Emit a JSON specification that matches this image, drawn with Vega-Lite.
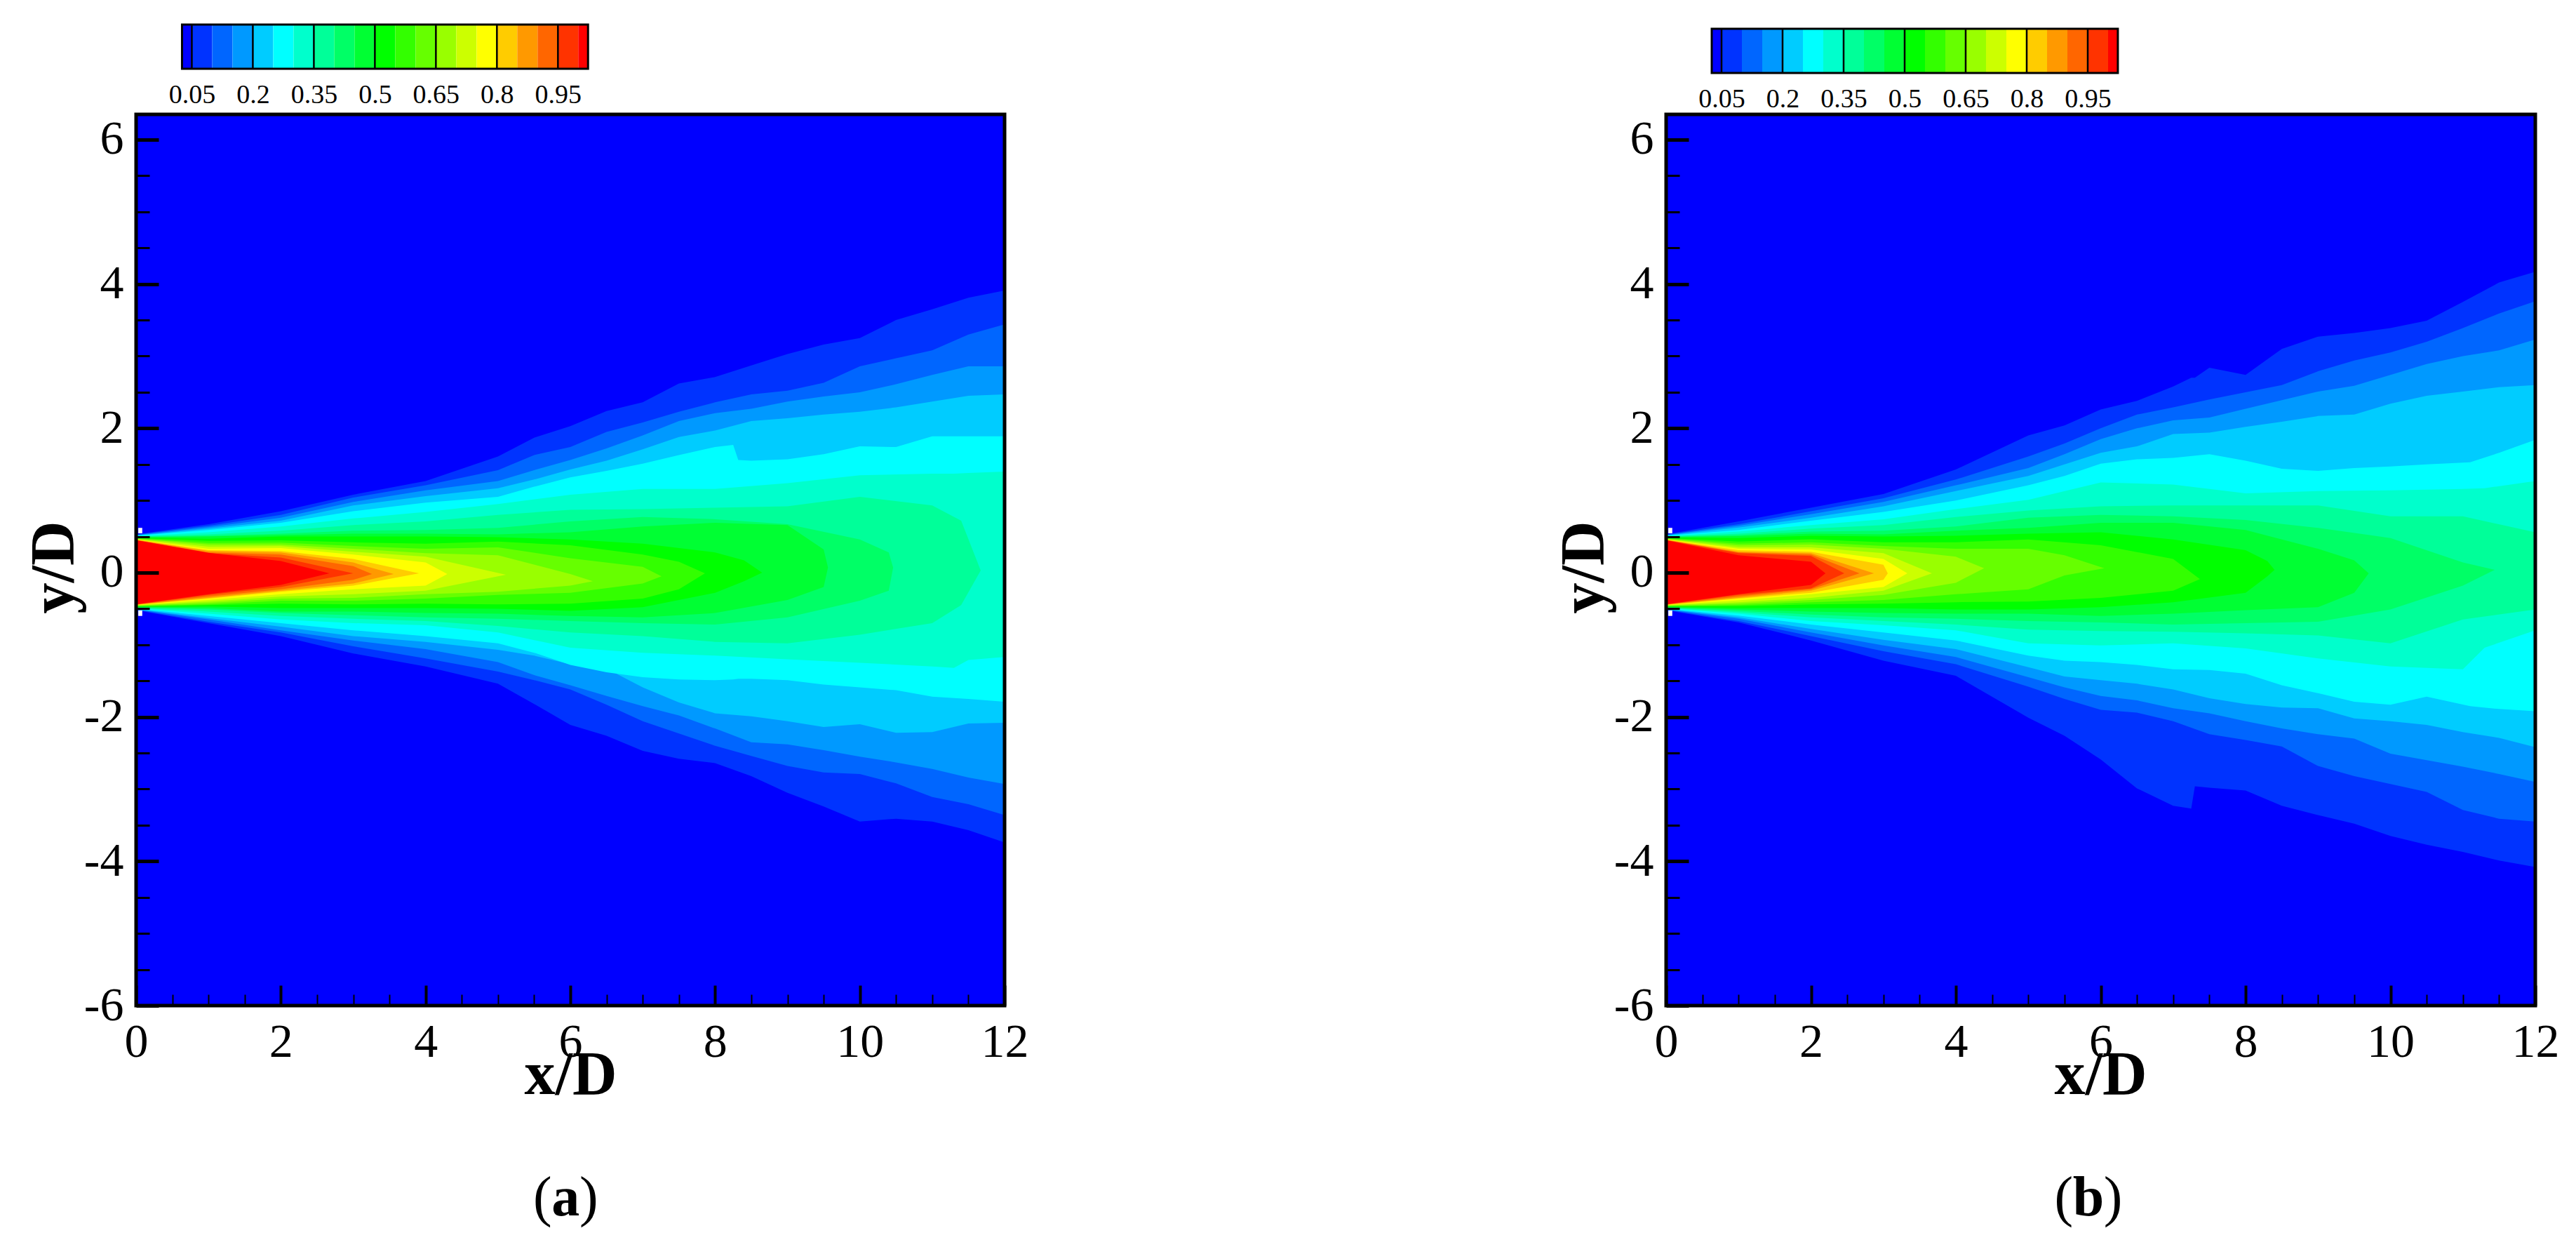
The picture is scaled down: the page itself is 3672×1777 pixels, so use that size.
{"$schema":"https://vega.github.io/schema/vega-lite/v6.json","background":"white","padding":{"left":33,"top":33,"right":10,"bottom":0},"config":{"view":{"stroke":null},"font":"Liberation Serif"},"bounds":"flush","spacing":2181,
"datasets":{
"cbar":[{"l":0,"lo":0.0259,"hi":0.05},{"l":1,"lo":0.05,"hi":0.1},{"l":2,"lo":0.1,"hi":0.15},{"l":3,"lo":0.15,"hi":0.2},{"l":4,"lo":0.2,"hi":0.25},{"l":5,"lo":0.25,"hi":0.3},{"l":6,"lo":0.3,"hi":0.35},{"l":7,"lo":0.35,"hi":0.4},{"l":8,"lo":0.4,"hi":0.45},{"l":9,"lo":0.45,"hi":0.5},{"l":10,"lo":0.5,"hi":0.55},{"l":11,"lo":0.55,"hi":0.6},{"l":12,"lo":0.6,"hi":0.65},{"l":13,"lo":0.65,"hi":0.7},{"l":14,"lo":0.7,"hi":0.75},{"l":15,"lo":0.75,"hi":0.8},{"l":16,"lo":0.8,"hi":0.85},{"l":17,"lo":0.85,"hi":0.9},{"l":18,"lo":0.9,"hi":0.95},{"l":19,"lo":0.95,"hi":1.0},{"l":20,"lo":1.0,"hi":1.024}],
"cbarlines":[{"v":0.05},{"v":0.2},{"v":0.35},{"v":0.5},{"v":0.65},{"v":0.8},{"v":0.95}],
"cbarframe":[{"lo":0.0259,"hi":1.024}],
"frame":[{"x0":0,"x1":12,"y0":-6,"y1":6.35}],
"dots":[{"x0":0.03,"x1":0.085,"y0":0.545,"y1":0.62},{"x0":0.03,"x1":0.085,"y0":-0.6,"y1":-0.524}],
"capa":[{"x":5.615,"t":"("},{"x":6.255,"t":")"}],"capa2":[{"x":5.935,"t":"a"}],
"capb":[{"x":5.49,"t":"("},{"x":6.17,"t":")"}],"capb2":[{"x":5.83,"t":"b"}],
"a":[{"l":0,"x":0,"u":6.35,"d":-6},{"l":0,"x":12,"u":6.35,"d":-6},
{"l":1,"x":0,"u":0.53,"d":-0.52},{"l":1,"x":1,"u":0.67,"d":-0.7},{"l":1,"x":2,"u":0.85,"d":-0.88},{"l":1,"x":3,"u":1.08,"d":-1.12},{"l":1,"x":4,"u":1.27,"d":-1.3},{"l":1,"x":5,"u":1.61,"d":-1.54},{"l":1,"x":5.5,"u":1.87,"d":-1.82},{"l":1,"x":6,"u":2.03,"d":-2.11},{"l":1,"x":6.5,"u":2.24,"d":-2.26},{"l":1,"x":7,"u":2.36,"d":-2.47},{"l":1,"x":7.5,"u":2.62,"d":-2.58},{"l":1,"x":8,"u":2.71,"d":-2.64},{"l":1,"x":8.5,"u":2.87,"d":-2.82},{"l":1,"x":9,"u":3.03,"d":-3.05},{"l":1,"x":9.5,"u":3.16,"d":-3.24},{"l":1,"x":10,"u":3.25,"d":-3.45},{"l":1,"x":10.5,"u":3.5,"d":-3.41},{"l":1,"x":11,"u":3.65,"d":-3.45},{"l":1,"x":11.5,"u":3.81,"d":-3.57},{"l":1,"x":12,"u":3.91,"d":-3.74},
{"l":2,"x":0,"u":0.525,"d":-0.515},{"l":2,"x":1,"u":0.65,"d":-0.68},{"l":2,"x":2,"u":0.8,"d":-0.83},{"l":2,"x":3,"u":1.04,"d":-1.02},{"l":2,"x":4,"u":1.21,"d":-1.19},{"l":2,"x":5,"u":1.42,"d":-1.37},{"l":2,"x":5.5,"u":1.63,"d":-1.49},{"l":2,"x":6,"u":1.74,"d":-1.62},{"l":2,"x":6.5,"u":1.95,"d":-1.83},{"l":2,"x":7,"u":2.08,"d":-2.06},{"l":2,"x":7.5,"u":2.23,"d":-2.23},{"l":2,"x":8,"u":2.36,"d":-2.4},{"l":2,"x":8.5,"u":2.47,"d":-2.54},{"l":2,"x":9,"u":2.52,"d":-2.68},{"l":2,"x":9.5,"u":2.63,"d":-2.77},{"l":2,"x":10,"u":2.86,"d":-2.79},{"l":2,"x":10.5,"u":2.97,"d":-2.92},{"l":2,"x":11,"u":3.08,"d":-3.11},{"l":2,"x":11.5,"u":3.3,"d":-3.21},{"l":2,"x":12,"u":3.44,"d":-3.36},
{"l":3,"x":0,"u":0.52,"d":-0.51},{"l":3,"x":1,"u":0.63,"d":-0.65},{"l":3,"x":2,"u":0.76,"d":-0.8},{"l":3,"x":3,"u":0.98,"d":-0.94},{"l":3,"x":4,"u":1.14,"d":-1.06},{"l":3,"x":5,"u":1.27,"d":-1.24},{"l":3,"x":5.5,"u":1.42,"d":-1.42},{"l":3,"x":6,"u":1.56,"d":-1.56},{"l":3,"x":6.5,"u":1.72,"d":-1.71},{"l":3,"x":7,"u":1.9,"d":-1.85},{"l":3,"x":7.5,"u":2.1,"d":-1.98},{"l":3,"x":8,"u":2.21,"d":-2.16},{"l":3,"x":8.5,"u":2.27,"d":-2.35},{"l":3,"x":9,"u":2.37,"d":-2.38},{"l":3,"x":9.5,"u":2.44,"d":-2.46},{"l":3,"x":10,"u":2.5,"d":-2.55},{"l":3,"x":10.5,"u":2.61,"d":-2.63},{"l":3,"x":11,"u":2.74,"d":-2.72},{"l":3,"x":11.5,"u":2.86,"d":-2.84},{"l":3,"x":12,"u":2.86,"d":-2.93},
{"l":4,"x":0,"u":0.515,"d":-0.505},{"l":4,"x":1,"u":0.61,"d":-0.63},{"l":4,"x":2,"u":0.72,"d":-0.75},{"l":4,"x":3,"u":0.93,"d":-0.88},{"l":4,"x":4,"u":1.06,"d":-0.96},{"l":4,"x":5,"u":1.17,"d":-1.07},{"l":4,"x":5.5,"u":1.29,"d":-1.15},{"l":4,"x":6,"u":1.43,"d":-1.27},{"l":4,"x":6.5,"u":1.55,"d":-1.33},{"l":4,"x":7,"u":1.71,"d":-1.59},{"l":4,"x":7.5,"u":1.88,"d":-1.8},{"l":4,"x":8,"u":1.97,"d":-1.95},{"l":4,"x":8.5,"u":2.1,"d":-1.99},{"l":4,"x":9,"u":2.14,"d":-2.06},{"l":4,"x":9.5,"u":2.19,"d":-2.14},{"l":4,"x":10,"u":2.23,"d":-2.1},{"l":4,"x":10.5,"u":2.29,"d":-2.22},{"l":4,"x":11,"u":2.37,"d":-2.21},{"l":4,"x":11.5,"u":2.45,"d":-2.09},{"l":4,"x":12,"u":2.47,"d":-2.08},
{"l":5,"x":0,"u":0.51,"d":-0.5},{"l":5,"x":1,"u":0.59,"d":-0.6},{"l":5,"x":2,"u":0.69,"d":-0.7},{"l":5,"x":3,"u":0.85,"d":-0.8},{"l":5,"x":4,"u":0.97,"d":-0.88},{"l":5,"x":5,"u":1.05,"d":-0.98},{"l":5,"x":5.5,"u":1.19,"d":-1.11},{"l":5,"x":6,"u":1.32,"d":-1.28},{"l":5,"x":6.5,"u":1.41,"d":-1.38},{"l":5,"x":7,"u":1.51,"d":-1.45},{"l":5,"x":7.5,"u":1.63,"d":-1.48},{"l":5,"x":8,"u":1.74,"d":-1.49},{"l":5,"x":8.25,"u":1.77,"d":-1.48},{"l":5,"x":8.32,"u":1.56,"d":-1.47},{"l":5,"x":8.5,"u":1.55,"d":-1.47},{"l":5,"x":9,"u":1.57,"d":-1.49},{"l":5,"x":9.5,"u":1.64,"d":-1.55},{"l":5,"x":10,"u":1.75,"d":-1.59},{"l":5,"x":10.5,"u":1.74,"d":-1.63},{"l":5,"x":11,"u":1.89,"d":-1.72},{"l":5,"x":11.5,"u":1.89,"d":-1.75},{"l":5,"x":12,"u":1.89,"d":-1.79},
{"l":6,"x":0,"u":0.505,"d":-0.495},{"l":6,"x":1,"u":0.56,"d":-0.57},{"l":6,"x":2,"u":0.64,"d":-0.65},{"l":6,"x":3,"u":0.75,"d":-0.7},{"l":6,"x":4,"u":0.84,"d":-0.73},{"l":6,"x":5,"u":0.95,"d":-0.83},{"l":6,"x":6,"u":1.08,"d":-1.04},{"l":6,"x":7,"u":1.16,"d":-1.11},{"l":6,"x":8,"u":1.16,"d":-1.15},{"l":6,"x":9,"u":1.24,"d":-1.2},{"l":6,"x":10,"u":1.35,"d":-1.25},{"l":6,"x":11,"u":1.37,"d":-1.3},{"l":6,"x":11.3,"u":1.37,"d":-1.32},{"l":6,"x":11.5,"u":1.38,"d":-1.21},{"l":6,"x":12,"u":1.4,"d":-1.17},
{"l":7,"x":0,"u":0.5,"d":-0.49},{"l":7,"x":1,"u":0.53,"d":-0.54},{"l":7,"x":2,"u":0.58,"d":-0.6},{"l":7,"x":3,"u":0.66,"d":-0.64},{"l":7,"x":4,"u":0.71,"d":-0.67},{"l":7,"x":5,"u":0.8,"d":-0.74},{"l":7,"x":6,"u":0.87,"d":-0.83},{"l":7,"x":7,"u":0.88,"d":-0.88},{"l":7,"x":8,"u":0.9,"d":-0.96},{"l":7,"x":9,"u":0.92,"d":-0.98},{"l":7,"x":10,"u":1.05,"d":-0.86},{"l":7,"x":11,"u":0.93,"d":-0.7},{"l":7,"x":11.4,"u":0.72,"d":-0.45},{"l":7,"x":11.67,"u":0.03,"d":0.03},
{"l":8,"x":0,"u":0.495,"d":-0.485},{"l":8,"x":1,"u":0.51,"d":-0.51},{"l":8,"x":2,"u":0.54,"d":-0.56},{"l":8,"x":3,"u":0.58,"d":-0.59},{"l":8,"x":4,"u":0.59,"d":-0.62},{"l":8,"x":5,"u":0.62,"d":-0.64},{"l":8,"x":6,"u":0.71,"d":-0.67},{"l":8,"x":7,"u":0.77,"d":-0.7},{"l":8,"x":8,"u":0.74,"d":-0.72},{"l":8,"x":9,"u":0.67,"d":-0.62},{"l":8,"x":10,"u":0.46,"d":-0.39},{"l":8,"x":10.4,"u":0.28,"d":-0.25},{"l":8,"x":10.46,"u":0.07,"d":0.07},
{"l":9,"x":0,"u":0.49,"d":-0.48},{"l":9,"x":1,"u":0.5,"d":-0.49},{"l":9,"x":2,"u":0.52,"d":-0.54},{"l":9,"x":3,"u":0.54,"d":-0.54},{"l":9,"x":4,"u":0.54,"d":-0.56},{"l":9,"x":5,"u":0.53,"d":-0.57},{"l":9,"x":6,"u":0.56,"d":-0.6},{"l":9,"x":7,"u":0.64,"d":-0.62},{"l":9,"x":8,"u":0.69,"d":-0.56},{"l":9,"x":9,"u":0.66,"d":-0.38},{"l":9,"x":9.5,"u":0.32,"d":-0.2},{"l":9,"x":9.56,"u":0.07,"d":0.07},
{"l":10,"x":0,"u":0.485,"d":-0.475},{"l":10,"x":1,"u":0.47,"d":-0.47},{"l":10,"x":2,"u":0.5,"d":-0.49},{"l":10,"x":3,"u":0.5,"d":-0.49},{"l":10,"x":4,"u":0.5,"d":-0.49},{"l":10,"x":5,"u":0.49,"d":-0.5},{"l":10,"x":6,"u":0.46,"d":-0.53},{"l":10,"x":7,"u":0.4,"d":-0.48},{"l":10,"x":8,"u":0.28,"d":-0.28},{"l":10,"x":8.4,"u":0.17,"d":-0.12},{"l":10,"x":8.65,"u":0,"d":0},
{"l":11,"x":0,"u":0.48,"d":-0.47},{"l":11,"x":1,"u":0.44,"d":-0.45},{"l":11,"x":2,"u":0.447,"d":-0.43},{"l":11,"x":3,"u":0.42,"d":-0.44},{"l":11,"x":4,"u":0.4,"d":-0.43},{"l":11,"x":5,"u":0.43,"d":-0.44},{"l":11,"x":6,"u":0.38,"d":-0.43},{"l":11,"x":7,"u":0.25,"d":-0.36},{"l":11,"x":7.5,"u":0.15,"d":-0.23},{"l":11,"x":7.86,"u":-0.01,"d":-0.01},
{"l":12,"x":0,"u":0.475,"d":-0.465},{"l":12,"x":1,"u":0.41,"d":-0.44},{"l":12,"x":2,"u":0.415,"d":-0.39},{"l":12,"x":3,"u":0.37,"d":-0.39},{"l":12,"x":4,"u":0.33,"d":-0.36},{"l":12,"x":5,"u":0.35,"d":-0.31},{"l":12,"x":6,"u":0.2,"d":-0.28},{"l":12,"x":7,"u":0.08,"d":-0.15},{"l":12,"x":7.26,"u":-0.05,"d":-0.05},
{"l":13,"x":0,"u":0.47,"d":-0.46},{"l":13,"x":1,"u":0.39,"d":-0.42},{"l":13,"x":2,"u":0.39,"d":-0.36},{"l":13,"x":3,"u":0.33,"d":-0.35},{"l":13,"x":4,"u":0.27,"d":-0.3},{"l":13,"x":5,"u":0.24,"d":-0.265},{"l":13,"x":6,"u":-0.02,"d":-0.18},{"l":13,"x":6.31,"u":-0.12,"d":-0.12},
{"l":14,"x":0,"u":0.465,"d":-0.455},{"l":14,"x":1,"u":0.36,"d":-0.4},{"l":14,"x":2,"u":0.366,"d":-0.33},{"l":14,"x":3,"u":0.29,"d":-0.3},{"l":14,"x":4,"u":0.22,"d":-0.25},{"l":14,"x":5.11,"u":-0.03,"d":-0.03},
{"l":15,"x":0,"u":0.46,"d":-0.45},{"l":15,"x":1,"u":0.33,"d":-0.38},{"l":15,"x":2,"u":0.34,"d":-0.3},{"l":15,"x":3,"u":0.25,"d":-0.23},{"l":15,"x":4,"u":0.14,"d":-0.18},{"l":15,"x":4.3,"u":-0.02,"d":-0.02},
{"l":16,"x":0,"u":0.457,"d":-0.447},{"l":16,"x":1,"u":0.31,"d":-0.36},{"l":16,"x":2,"u":0.3,"d":-0.265},{"l":16,"x":3,"u":0.19,"d":-0.18},{"l":16,"x":3.91,"u":-0.01,"d":-0.01},
{"l":17,"x":0,"u":0.455,"d":-0.445},{"l":17,"x":1,"u":0.3,"d":-0.35},{"l":17,"x":2,"u":0.28,"d":-0.25},{"l":17,"x":3,"u":0.14,"d":-0.15},{"l":17,"x":3.56,"u":-0.02,"d":-0.02},
{"l":18,"x":0,"u":0.453,"d":-0.443},{"l":18,"x":1,"u":0.28,"d":-0.33},{"l":18,"x":2,"u":0.25,"d":-0.23},{"l":18,"x":3,"u":0.09,"d":-0.1},{"l":18,"x":3.26,"u":-0.02,"d":-0.02},
{"l":19,"x":0,"u":0.45,"d":-0.44},{"l":19,"x":1,"u":0.27,"d":-0.31},{"l":19,"x":2,"u":0.21,"d":-0.2},{"l":19,"x":3,"u":-0.01,"d":-0.01},
{"l":20,"x":0,"u":0.447,"d":-0.437},{"l":20,"x":1,"u":0.275,"d":-0.3},{"l":20,"x":2,"u":0.16,"d":-0.17},{"l":20,"x":2.67,"u":-0.01,"d":-0.01}],
"b":[{"l":0,"x":0,"u":6.35,"d":-6},{"l":0,"x":12,"u":6.35,"d":-6},
{"l":1,"x":0,"u":0.53,"d":-0.52},{"l":1,"x":1,"u":0.71,"d":-0.69},{"l":1,"x":2,"u":0.9,"d":-0.94},{"l":1,"x":3,"u":1.09,"d":-1.22},{"l":1,"x":4,"u":1.43,"d":-1.43},{"l":1,"x":5,"u":1.9,"d":-2.01},{"l":1,"x":5.5,"u":2.04,"d":-2.26},{"l":1,"x":6,"u":2.26,"d":-2.59},{"l":1,"x":6.5,"u":2.38,"d":-2.99},{"l":1,"x":7,"u":2.58,"d":-3.23},{"l":1,"x":7.25,"u":2.7,"d":-3.27},{"l":1,"x":7.3,"u":2.7,"d":-2.96},{"l":1,"x":7.5,"u":2.84,"d":-2.98},{"l":1,"x":8,"u":2.74,"d":-3.02},{"l":1,"x":8.5,"u":3.1,"d":-3.23},{"l":1,"x":9,"u":3.27,"d":-3.36},{"l":1,"x":9.5,"u":3.32,"d":-3.48},{"l":1,"x":10,"u":3.39,"d":-3.65},{"l":1,"x":10.5,"u":3.49,"d":-3.77},{"l":1,"x":11,"u":3.75,"d":-3.87},{"l":1,"x":11.5,"u":4.02,"d":-3.99},{"l":1,"x":12,"u":4.17,"d":-4.08},
{"l":2,"x":0,"u":0.525,"d":-0.515},{"l":2,"x":1,"u":0.67,"d":-0.67},{"l":2,"x":2,"u":0.85,"d":-0.88},{"l":2,"x":3,"u":1.03,"d":-1.09},{"l":2,"x":4,"u":1.29,"d":-1.27},{"l":2,"x":5,"u":1.61,"d":-1.58},{"l":2,"x":5.5,"u":1.79,"d":-1.75},{"l":2,"x":6,"u":2.0,"d":-1.9},{"l":2,"x":6.5,"u":2.19,"d":-1.94},{"l":2,"x":7,"u":2.29,"d":-2.06},{"l":2,"x":7.5,"u":2.4,"d":-2.24},{"l":2,"x":8,"u":2.5,"d":-2.32},{"l":2,"x":8.5,"u":2.6,"d":-2.41},{"l":2,"x":9,"u":2.79,"d":-2.68},{"l":2,"x":9.5,"u":2.94,"d":-2.82},{"l":2,"x":10,"u":3.05,"d":-2.93},{"l":2,"x":10.5,"u":3.2,"d":-3.04},{"l":2,"x":11,"u":3.39,"d":-3.29},{"l":2,"x":11.5,"u":3.59,"d":-3.41},{"l":2,"x":12,"u":3.76,"d":-3.45},
{"l":3,"x":0,"u":0.52,"d":-0.51},{"l":3,"x":1,"u":0.65,"d":-0.64},{"l":3,"x":2,"u":0.81,"d":-0.83},{"l":3,"x":3,"u":0.98,"d":-1.01},{"l":3,"x":4,"u":1.21,"d":-1.17},{"l":3,"x":5,"u":1.45,"d":-1.45},{"l":3,"x":5.5,"u":1.64,"d":-1.59},{"l":3,"x":6,"u":1.85,"d":-1.71},{"l":3,"x":6.5,"u":2.0,"d":-1.77},{"l":3,"x":7,"u":2.11,"d":-1.88},{"l":3,"x":7.5,"u":2.15,"d":-1.95},{"l":3,"x":8,"u":2.27,"d":-2.06},{"l":3,"x":8.5,"u":2.39,"d":-2.16},{"l":3,"x":9,"u":2.51,"d":-2.24},{"l":3,"x":9.5,"u":2.59,"d":-2.3},{"l":3,"x":10,"u":2.74,"d":-2.51},{"l":3,"x":10.5,"u":2.89,"d":-2.6},{"l":3,"x":11,"u":3.0,"d":-2.69},{"l":3,"x":11.5,"u":3.08,"d":-2.79},{"l":3,"x":12,"u":3.23,"d":-2.9},
{"l":4,"x":0,"u":0.515,"d":-0.505},{"l":4,"x":1,"u":0.625,"d":-0.62},{"l":4,"x":2,"u":0.76,"d":-0.78},{"l":4,"x":3,"u":0.92,"d":-0.93},{"l":4,"x":4,"u":1.13,"d":-1.06},{"l":4,"x":5,"u":1.34,"d":-1.31},{"l":4,"x":5.5,"u":1.5,"d":-1.44},{"l":4,"x":6,"u":1.66,"d":-1.49},{"l":4,"x":6.5,"u":1.75,"d":-1.54},{"l":4,"x":7,"u":1.92,"d":-1.62},{"l":4,"x":7.5,"u":1.94,"d":-1.74},{"l":4,"x":8,"u":2.02,"d":-1.82},{"l":4,"x":8.5,"u":2.09,"d":-1.87},{"l":4,"x":9,"u":2.17,"d":-1.88},{"l":4,"x":9.5,"u":2.19,"d":-2.02},{"l":4,"x":10,"u":2.34,"d":-2.06},{"l":4,"x":10.5,"u":2.45,"d":-2.11},{"l":4,"x":11,"u":2.51,"d":-2.21},{"l":4,"x":11.5,"u":2.57,"d":-2.29},{"l":4,"x":12,"u":2.6,"d":-2.42},
{"l":5,"x":0,"u":0.51,"d":-0.5},{"l":5,"x":1,"u":0.59,"d":-0.595},{"l":5,"x":2,"u":0.72,"d":-0.72},{"l":5,"x":3,"u":0.84,"d":-0.83},{"l":5,"x":4,"u":1.0,"d":-0.94},{"l":5,"x":5,"u":1.21,"d":-1.15},{"l":5,"x":5.5,"u":1.34,"d":-1.22},{"l":5,"x":6,"u":1.51,"d":-1.24},{"l":5,"x":6.5,"u":1.57,"d":-1.28},{"l":5,"x":7,"u":1.59,"d":-1.34},{"l":5,"x":7.5,"u":1.64,"d":-1.35},{"l":5,"x":8,"u":1.55,"d":-1.4},{"l":5,"x":8.5,"u":1.44,"d":-1.56},{"l":5,"x":9,"u":1.41,"d":-1.67},{"l":5,"x":9.5,"u":1.45,"d":-1.79},{"l":5,"x":10,"u":1.47,"d":-1.83},{"l":5,"x":10.5,"u":1.5,"d":-1.72},{"l":5,"x":11.1,"u":1.53,"d":-1.85},{"l":5,"x":11.5,"u":1.66,"d":-1.89},{"l":5,"x":12,"u":1.84,"d":-1.92},
{"l":6,"x":0,"u":0.505,"d":-0.495},{"l":6,"x":1,"u":0.57,"d":-0.57},{"l":6,"x":2,"u":0.66,"d":-0.67},{"l":6,"x":3,"u":0.74,"d":-0.73},{"l":6,"x":4,"u":0.88,"d":-0.8},{"l":6,"x":5,"u":1.01,"d":-0.98},{"l":6,"x":6,"u":1.25,"d":-1.01},{"l":6,"x":7,"u":1.22,"d":-0.98},{"l":6,"x":8,"u":1.1,"d":-1.05},{"l":6,"x":9,"u":1.13,"d":-1.19},{"l":6,"x":10,"u":1.14,"d":-1.3},{"l":6,"x":11,"u":1.16,"d":-1.34},{"l":6,"x":11.3,"u":1.17,"d":-1.04},{"l":6,"x":12,"u":1.27,"d":-0.8},
{"l":7,"x":0,"u":0.5,"d":-0.49},{"l":7,"x":1,"u":0.54,"d":-0.55},{"l":7,"x":2,"u":0.61,"d":-0.62},{"l":7,"x":3,"u":0.66,"d":-0.67},{"l":7,"x":4,"u":0.77,"d":-0.72},{"l":7,"x":5,"u":0.86,"d":-0.79},{"l":7,"x":6,"u":0.92,"d":-0.81},{"l":7,"x":7,"u":0.93,"d":-0.82},{"l":7,"x":8,"u":0.93,"d":-0.84},{"l":7,"x":9,"u":0.93,"d":-0.87},{"l":7,"x":10,"u":0.78,"d":-0.98},{"l":7,"x":11,"u":0.78,"d":-0.65},{"l":7,"x":12,"u":0.56,"d":-0.51},
{"l":8,"x":0,"u":0.495,"d":-0.485},{"l":8,"x":1,"u":0.52,"d":-0.53},{"l":8,"x":2,"u":0.57,"d":-0.58},{"l":8,"x":3,"u":0.58,"d":-0.62},{"l":8,"x":4,"u":0.64,"d":-0.64},{"l":8,"x":5,"u":0.76,"d":-0.67},{"l":8,"x":6,"u":0.8,"d":-0.69},{"l":8,"x":7,"u":0.78,"d":-0.72},{"l":8,"x":8,"u":0.73,"d":-0.7},{"l":8,"x":9,"u":0.62,"d":-0.68},{"l":8,"x":10,"u":0.48,"d":-0.51},{"l":8,"x":11,"u":0.14,"d":-0.18},{"l":8,"x":11.44,"u":0.04,"d":0.04},
{"l":9,"x":0,"u":0.49,"d":-0.48},{"l":9,"x":1,"u":0.505,"d":-0.51},{"l":9,"x":2,"u":0.54,"d":-0.54},{"l":9,"x":3,"u":0.53,"d":-0.56},{"l":9,"x":4,"u":0.58,"d":-0.57},{"l":9,"x":5,"u":0.62,"d":-0.57},{"l":9,"x":6,"u":0.69,"d":-0.6},{"l":9,"x":7,"u":0.69,"d":-0.57},{"l":9,"x":8,"u":0.59,"d":-0.52},{"l":9,"x":9,"u":0.33,"d":-0.48},{"l":9,"x":9.5,"u":0.17,"d":-0.28},{"l":9,"x":9.7,"u":-0.01,"d":-0.01},
{"l":10,"x":0,"u":0.485,"d":-0.475},{"l":10,"x":1,"u":0.48,"d":-0.49},{"l":10,"x":2,"u":0.51,"d":-0.49},{"l":10,"x":3,"u":0.5,"d":-0.49},{"l":10,"x":4,"u":0.51,"d":-0.51},{"l":10,"x":5,"u":0.54,"d":-0.51},{"l":10,"x":6,"u":0.56,"d":-0.48},{"l":10,"x":7,"u":0.46,"d":-0.41},{"l":10,"x":8,"u":0.31,"d":-0.28},{"l":10,"x":8.3,"u":0.16,"d":-0.05},{"l":10,"x":8.4,"u":0.04,"d":0.04},
{"l":11,"x":0,"u":0.48,"d":-0.47},{"l":11,"x":1,"u":0.43,"d":-0.465},{"l":11,"x":2,"u":0.463,"d":-0.44},{"l":11,"x":3,"u":0.42,"d":-0.43},{"l":11,"x":4,"u":0.42,"d":-0.41},{"l":11,"x":5,"u":0.46,"d":-0.4},{"l":11,"x":6,"u":0.38,"d":-0.35},{"l":11,"x":7,"u":0.19,"d":-0.25},{"l":11,"x":7.37,"u":-0.09,"d":-0.09},
{"l":12,"x":0,"u":0.475,"d":-0.465},{"l":12,"x":1,"u":0.4,"d":-0.45},{"l":12,"x":2,"u":0.42,"d":-0.41},{"l":12,"x":3,"u":0.37,"d":-0.38},{"l":12,"x":4,"u":0.33,"d":-0.3},{"l":12,"x":5,"u":0.33,"d":-0.23},{"l":12,"x":5.5,"u":0.24,"d":-0.04},{"l":12,"x":6.05,"u":0.06,"d":0.06},
{"l":13,"x":0,"u":0.47,"d":-0.46},{"l":13,"x":1,"u":0.376,"d":-0.43},{"l":13,"x":2,"u":0.39,"d":-0.38},{"l":13,"x":3,"u":0.33,"d":-0.31},{"l":13,"x":4,"u":0.22,"d":-0.14},{"l":13,"x":4.39,"u":0.06,"d":0.06},
{"l":14,"x":0,"u":0.465,"d":-0.455},{"l":14,"x":1,"u":0.35,"d":-0.41},{"l":14,"x":2,"u":0.35,"d":-0.35},{"l":14,"x":3,"u":0.27,"d":-0.25},{"l":14,"x":3.67,"u":-0.01,"d":-0.01},
{"l":15,"x":0,"u":0.46,"d":-0.45},{"l":15,"x":1,"u":0.33,"d":-0.385},{"l":15,"x":2,"u":0.32,"d":-0.3},{"l":15,"x":3,"u":0.19,"d":-0.2},{"l":15,"x":3.33,"u":-0.01,"d":-0.01},
{"l":16,"x":0,"u":0.457,"d":-0.447},{"l":16,"x":1,"u":0.31,"d":-0.36},{"l":16,"x":2,"u":0.29,"d":-0.28},{"l":16,"x":3,"u":0.11,"d":-0.1},{"l":16,"x":3.06,"u":-0.01,"d":-0.01},
{"l":17,"x":0,"u":0.455,"d":-0.445},{"l":17,"x":1,"u":0.29,"d":-0.35},{"l":17,"x":2,"u":0.27,"d":-0.25},{"l":17,"x":2.87,"u":-0.01,"d":-0.01},
{"l":18,"x":0,"u":0.453,"d":-0.443},{"l":18,"x":1,"u":0.28,"d":-0.33},{"l":18,"x":2,"u":0.25,"d":-0.23},{"l":18,"x":2.67,"u":-0.01,"d":-0.01},
{"l":19,"x":0,"u":0.45,"d":-0.44},{"l":19,"x":1,"u":0.27,"d":-0.31},{"l":19,"x":2,"u":0.23,"d":-0.22},{"l":19,"x":2.46,"u":-0.01,"d":-0.01},
{"l":20,"x":0,"u":0.447,"d":-0.437},{"l":20,"x":1,"u":0.24,"d":-0.3},{"l":20,"x":2,"u":0.15,"d":-0.17},{"l":20,"x":2.2,"u":-0.01,"d":-0.01}]
},
"hconcat":[
{"bounds":"flush","vconcat":[
{"width":1238,"height":69,"resolve":{"axis":{"x":"independent"}},"encoding":{"y":{"datum":0,"type":"quantitative","scale":{"domain":[-0.095,1],"nice":false,"zero":false},"axis":null},"y2":{"datum":1}},
"layer":[
{"data":{"name":"cbar"},"mark":{"type":"rect"},"encoding":{"x":{"field":"lo","type":"quantitative","scale":{"domain":[-0.087,2.048],"nice":false,"zero":false},"axis":null},"x2":{"field":"hi"},"color":{"field":"l","type":"ordinal","legend":null,"scale":{"domain":[0,1,2,3,4,5,6,7,8,9,10,11,12,13,14,15,16,17,18,19,20],"range":["#0000FF","#0033FF","#0066FF","#0099FF","#00CCFF","#00FFFF","#00FFCC","#00FF99","#00FF66","#00FF33","#00FF00","#33FF00","#66FF00","#99FF00","#CCFF00","#FFFF00","#FFCC00","#FF9900","#FF6600","#FF3300","#FF0000"]}}}},
{"data":{"name":"cbarlines"},"mark":{"type":"rule","color":"black","strokeWidth":2.5},"encoding":{"x":{"field":"v","type":"quantitative","scale":{"domain":[-0.087,2.048],"nice":false,"zero":false},"axis":{"orient":"bottom","values":[0.05,0.2,0.35,0.5,0.65,0.8,0.95],"format":".2~f","domain":false,"ticks":false,"grid":false,"labelFont":"Liberation Serif","labelFontSize":38,"labelPadding":12,"labelColor":"black","title":null,"labelOverlap":false,"labelFlush":false}}}},
{"data":{"name":"cbarframe"},"mark":{"type":"rect","fill":null,"stroke":"black","strokeWidth":3},"encoding":{"x":{"field":"lo","type":"quantitative","scale":{"domain":[-0.087,2.048],"nice":false,"zero":false},"axis":null},"x2":{"field":"hi"}}}
]},
{"width":1238,"height":1270,"encoding":{"x":{"field":"x","type":"quantitative","scale":{"domain":[0,12],"nice":false,"zero":false}},"y":{"field":"u","type":"quantitative","scale":{"domain":[-6,6.35],"nice":false,"zero":false}}},
"resolve":{"axis":{"x":"independent","y":"independent"}},
"layer":[
{"data":{"name":"a"},"mark":{"type":"area","clip":true,"interpolate":"linear"},"encoding":{"x":{"field":"x","type":"quantitative","axis":{"orient":"bottom","values":[0,2,4,6,8,10,12],"domain":false,"grid":false,"tickColor":"black","tickSize":-29,"tickWidth":4,"labelFont":"Liberation Serif","labelFontSize":68,"labelColor":"black","labelPadding":47,"labelFlush":false,"labelOverlap":false,"title":"x/D","titleFont":"Liberation Serif","titleFontSize":88,"titleFontWeight":"bold","titleColor":"black","titleX":619,"titleY":55,"zindex":1}},"y":{"field":"u","type":"quantitative","axis":{"orient":"left","values":[-6,-4,-2,0,2,4,6],"labelExpr":"'' + datum.value","domain":false,"grid":false,"tickColor":"black","tickSize":-32,"tickWidth":5,"labelFont":"Liberation Serif","labelFontSize":68,"labelColor":"black","labelPadding":50,"labelFlush":false,"labelOverlap":false,"title":"y/D","titleFont":"Liberation Serif","titleFontSize":88,"titleFontWeight":"bold","titleColor":"black","titleX":-73,"titleY":645,"zindex":1}},"y2":{"field":"d"},"color":{"field":"l","type":"ordinal","legend":null,"scale":{"domain":[0,1,2,3,4,5,6,7,8,9,10,11,12,13,14,15,16,17,18,19,20],"range":["#0000FF","#0033FF","#0066FF","#0099FF","#00CCFF","#00FFFF","#00FFCC","#00FF99","#00FF66","#00FF33","#00FF00","#33FF00","#66FF00","#99FF00","#CCFF00","#FFFF00","#FFCC00","#FF9900","#FF6600","#FF3300","#FF0000"]}}}},
{"data":{"name":"dots"},"mark":{"type":"rect","color":"white"},"encoding":{"x":{"field":"x0","type":"quantitative","axis":{"orient":"bottom","values":[0.5,1,1.5,2.5,3,3.5,4.5,5,5.5,6.5,7,7.5,8.5,9,9.5,10.5,11,11.5],"domain":false,"grid":false,"labels":false,"tickColor":"black","tickSize":-16,"tickWidth":2,"title":null,"zindex":1}},"x2":{"field":"x1"},"y":{"field":"y0","type":"quantitative","axis":{"orient":"left","values":[-5.5,-5,-4.5,-3.5,-3,-2.5,-1.5,-1,-0.5,0.5,1,1.5,2.5,3,3.5,4.5,5,5.5],"domain":false,"grid":false,"labels":false,"tickColor":"black","tickSize":-19,"tickWidth":3,"title":null,"zindex":1}},"y2":{"field":"y1"}}},
{"data":{"name":"frame"},"mark":{"type":"rect","fill":null,"stroke":"black","strokeWidth":5},"encoding":{"x":{"field":"x0","type":"quantitative","axis":null},"x2":{"field":"x1"},"y":{"field":"y0","type":"quantitative","axis":null},"y2":{"field":"y1"}}}
]},
{"width":1238,"height":285,"encoding":{"x":{"field":"x","type":"quantitative","axis":null,"scale":{"domain":[0,12],"nice":false,"zero":false}},"y":{"datum":0,"type":"quantitative","axis":null,"scale":{"domain":[-69,216],"nice":false,"zero":false}},"text":{"field":"t"}},
"layer":[
{"data":{"name":"capa"},"mark":{"type":"text","font":"Liberation Serif","fontSize":80,"color":"black"}},
{"data":{"name":"capa2"},"mark":{"type":"text","font":"Liberation Serif","fontSize":80,"fontWeight":"bold","color":"black"}}
]}
],"spacing":59},
{"bounds":"flush","vconcat":[
{"width":1239,"height":69,"resolve":{"axis":{"x":"independent"}},"encoding":{"y":{"datum":0,"type":"quantitative","scale":{"domain":[0,1.095],"nice":false,"zero":false},"axis":null},"y2":{"datum":1}},
"layer":[
{"data":{"name":"cbar"},"mark":{"type":"rect"},"encoding":{"x":{"field":"lo","type":"quantitative","scale":{"domain":[-0.0862,2.05],"nice":false,"zero":false},"axis":null},"x2":{"field":"hi"},"color":{"field":"l","type":"ordinal","legend":null,"scale":{"domain":[0,1,2,3,4,5,6,7,8,9,10,11,12,13,14,15,16,17,18,19,20],"range":["#0000FF","#0033FF","#0066FF","#0099FF","#00CCFF","#00FFFF","#00FFCC","#00FF99","#00FF66","#00FF33","#00FF00","#33FF00","#66FF00","#99FF00","#CCFF00","#FFFF00","#FFCC00","#FF9900","#FF6600","#FF3300","#FF0000"]}}}},
{"data":{"name":"cbarlines"},"mark":{"type":"rule","color":"black","strokeWidth":2.5},"encoding":{"x":{"field":"v","type":"quantitative","scale":{"domain":[-0.0862,2.05],"nice":false,"zero":false},"axis":{"orient":"bottom","values":[0.05,0.2,0.35,0.5,0.65,0.8,0.95],"format":".2~f","domain":false,"ticks":false,"grid":false,"labelFont":"Liberation Serif","labelFontSize":38,"labelPadding":18,"labelColor":"black","title":null,"labelOverlap":false,"labelFlush":false}}}},
{"data":{"name":"cbarframe"},"mark":{"type":"rect","fill":null,"stroke":"black","strokeWidth":3},"encoding":{"x":{"field":"lo","type":"quantitative","scale":{"domain":[-0.0862,2.05],"nice":false,"zero":false},"axis":null},"x2":{"field":"hi"}}}
]},
{"width":1239,"height":1270,"encoding":{"x":{"field":"x","type":"quantitative","scale":{"domain":[0,12],"nice":false,"zero":false}},"y":{"field":"u","type":"quantitative","scale":{"domain":[-6,6.35],"nice":false,"zero":false}}},
"resolve":{"axis":{"x":"independent","y":"independent"}},
"layer":[
{"data":{"name":"b"},"mark":{"type":"area","clip":true,"interpolate":"linear"},"encoding":{"x":{"field":"x","type":"quantitative","axis":{"orient":"bottom","values":[0,2,4,6,8,10,12],"domain":false,"grid":false,"tickColor":"black","tickSize":-29,"tickWidth":4,"labelFont":"Liberation Serif","labelFontSize":68,"labelColor":"black","labelPadding":47,"labelFlush":false,"labelOverlap":false,"title":"x/D","titleFont":"Liberation Serif","titleFontSize":88,"titleFontWeight":"bold","titleColor":"black","titleX":619,"titleY":55,"zindex":1}},"y":{"field":"u","type":"quantitative","axis":{"orient":"left","values":[-6,-4,-2,0,2,4,6],"labelExpr":"'' + datum.value","domain":false,"grid":false,"tickColor":"black","tickSize":-32,"tickWidth":5,"labelFont":"Liberation Serif","labelFontSize":68,"labelColor":"black","labelPadding":50,"labelFlush":false,"labelOverlap":false,"title":"y/D","titleFont":"Liberation Serif","titleFontSize":88,"titleFontWeight":"bold","titleColor":"black","titleX":-73,"titleY":645,"zindex":1}},"y2":{"field":"d"},"color":{"field":"l","type":"ordinal","legend":null,"scale":{"domain":[0,1,2,3,4,5,6,7,8,9,10,11,12,13,14,15,16,17,18,19,20],"range":["#0000FF","#0033FF","#0066FF","#0099FF","#00CCFF","#00FFFF","#00FFCC","#00FF99","#00FF66","#00FF33","#00FF00","#33FF00","#66FF00","#99FF00","#CCFF00","#FFFF00","#FFCC00","#FF9900","#FF6600","#FF3300","#FF0000"]}}}},
{"data":{"name":"dots"},"mark":{"type":"rect","color":"white"},"encoding":{"x":{"field":"x0","type":"quantitative","axis":{"orient":"bottom","values":[0.5,1,1.5,2.5,3,3.5,4.5,5,5.5,6.5,7,7.5,8.5,9,9.5,10.5,11,11.5],"domain":false,"grid":false,"labels":false,"tickColor":"black","tickSize":-16,"tickWidth":2,"title":null,"zindex":1}},"x2":{"field":"x1"},"y":{"field":"y0","type":"quantitative","axis":{"orient":"left","values":[-5.5,-5,-4.5,-3.5,-3,-2.5,-1.5,-1,-0.5,0.5,1,1.5,2.5,3,3.5,4.5,5,5.5],"domain":false,"grid":false,"labels":false,"tickColor":"black","tickSize":-19,"tickWidth":3,"title":null,"zindex":1}},"y2":{"field":"y1"}}},
{"data":{"name":"frame"},"mark":{"type":"rect","fill":null,"stroke":"black","strokeWidth":5},"encoding":{"x":{"field":"x0","type":"quantitative","axis":null},"x2":{"field":"x1"},"y":{"field":"y0","type":"quantitative","axis":null},"y2":{"field":"y1"}}}
]},
{"width":1239,"height":285,"encoding":{"x":{"field":"x","type":"quantitative","axis":null,"scale":{"domain":[0,12],"nice":false,"zero":false}},"y":{"datum":0,"type":"quantitative","axis":null,"scale":{"domain":[-69,216],"nice":false,"zero":false}},"text":{"field":"t"}},
"layer":[
{"data":{"name":"capb"},"mark":{"type":"text","font":"Liberation Serif","fontSize":80,"color":"black"}},
{"data":{"name":"capb2"},"mark":{"type":"text","font":"Liberation Serif","fontSize":80,"fontWeight":"bold","color":"black"}}
]}
],"spacing":59}
]}
